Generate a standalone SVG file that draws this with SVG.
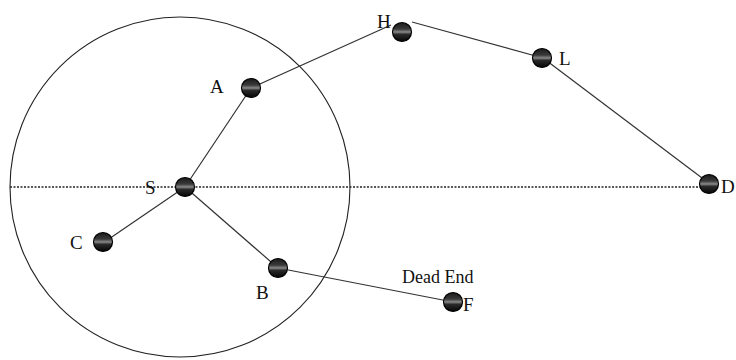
<svg xmlns="http://www.w3.org/2000/svg" width="736" height="360" viewBox="0 0 736 360">
<defs>
<linearGradient id="ball" x1="0" y1="0" x2="0" y2="1">
<stop offset="0" stop-color="#1a1a1a"/>
<stop offset="0.35" stop-color="#3a3a3a"/>
<stop offset="0.5" stop-color="#8a8a8a"/>
<stop offset="0.62" stop-color="#2a2a2a"/>
<stop offset="1" stop-color="#050505"/>
</linearGradient>
</defs>
<style>
.node circle{fill:url(#ball);stroke:#000;stroke-width:1.2}
.lbl{font-family:"Liberation Serif","Times New Roman",serif;font-size:19px;fill:#111}
.dead{font-family:"Liberation Serif","Times New Roman",serif;font-size:18px;fill:#111}
.edge{stroke:#333;stroke-width:1.2;fill:none}
.dot{stroke:#222;stroke-width:1.5;stroke-dasharray:2 1.5;fill:none}
</style>
<rect width="736" height="360" fill="#fff"/>
<circle cx="180" cy="187" r="170" fill="none" stroke="#222" stroke-width="1.1"/>
<g id="connectors">
<line class="dot" x1="10" y1="187" x2="706" y2="187"/>
<line class="edge" x1="185" y1="187" x2="251" y2="88"/>
<line class="edge" x1="251" y1="88" x2="391" y2="25"/>
<line class="edge" x1="412" y1="22" x2="543" y2="58"/>
<line class="edge" x1="543" y1="58" x2="710" y2="184"/>
<line class="edge" x1="185" y1="187" x2="103" y2="243"/>
<line class="edge" x1="185" y1="187" x2="278" y2="268"/>
<line class="edge" x1="278" y1="268" x2="453" y2="302"/>
</g>
<g id="S" class="node"><circle cx="185" cy="187" r="9.5"/><text class="lbl" x="145" y="194">S</text></g>
<g id="A" class="node"><circle cx="251" cy="88" r="9.5"/><text class="lbl" x="210" y="93">A</text></g>
<g id="H" class="node"><circle cx="402" cy="32" r="9.5"/><text class="lbl" x="377" y="28">H</text></g>
<g id="L" class="node"><circle cx="542" cy="58" r="9.5"/><text class="lbl" x="559" y="65">L</text></g>
<g id="D" class="node"><circle cx="709" cy="184" r="9.5"/><text class="lbl" x="721" y="193">D</text></g>
<g id="C" class="node"><circle cx="103" cy="242" r="9.5"/><text class="lbl" x="70" y="249">C</text></g>
<g id="B" class="node"><circle cx="278" cy="268" r="9.5"/><text class="lbl" x="256" y="299">B</text></g>
<g id="F" class="node"><circle cx="453" cy="302" r="9.5"/><text class="lbl" x="463" y="311">F</text></g>
<text class="dead" x="402" y="283">Dead End</text>
</svg>
